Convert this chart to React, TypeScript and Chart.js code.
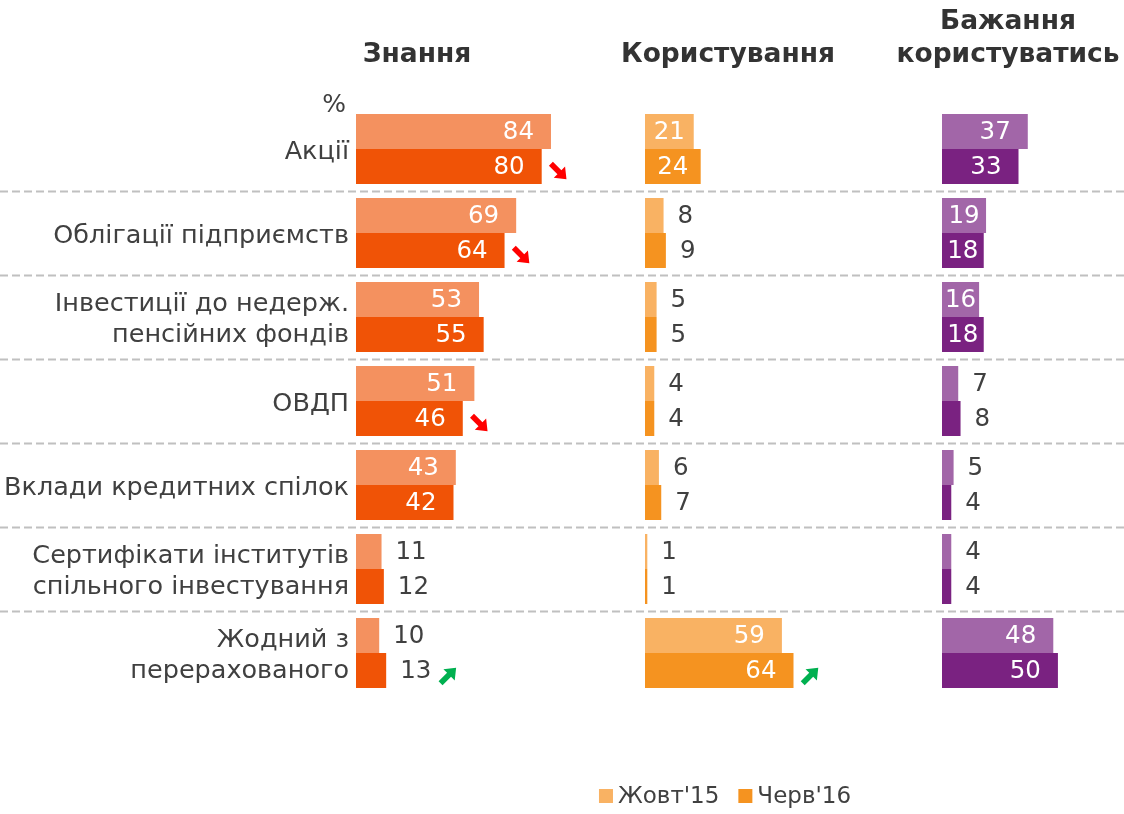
import React, { useEffect, useRef } from 'react';
import { Chart, registerables } from 'chart.js';

Chart.register(...registerables);

const categories: (string | string[])[] = [
  'Акції',
  'Облігації підприємств',
  ['Інвестиції до недерж.', 'пенсійних фондів'],
  'ОВДП',
  'Вклади кредитних спілок',
  ['Сертифікати інститутів', 'спільного інвестування'],
  ['Жодний з', 'перерахованого'],
];
const seriesNames = ["Жовт'15", "Черв'16"];
const panelTitles = [['Знання'], ['Користування'], ['Бажання', 'користуватись']];
const unitLabel = '%';

const knowOct15 = [84, 69, 53, 51, 43, 11, 10];
const knowJun16 = [80, 64, 55, 46, 42, 12, 13];
const useOct15 = [21, 8, 5, 4, 6, 1, 59];
const useJun16 = [24, 9, 5, 4, 7, 1, 64];
const wantOct15 = [37, 19, 16, 7, 5, 4, 48];
const wantJun16 = [33, 18, 18, 8, 4, 4, 50];

const knowTrend = ['down', 'down', null, 'down', null, null, 'up'];
const useTrend = [null, null, null, null, null, null, 'up'];
const wantTrend = [null, null, null, null, null, null, null];

const FONT = '"DejaVu Sans", Verdana, sans-serif';
const TEXT = '#404040';
const knowColors = ['#F4915F', '#F05306'];
const useColors = ['#F9B263', '#F59320'];
const wantColors = ['#A266A8', '#7A2281'];

function drawArrow(ctx: CanvasRenderingContext2D, cx: number, cy: number, dir: string) {
  ctx.save();
  ctx.translate(cx, cy);
  ctx.rotate(dir === 'down' ? Math.PI / 4 : -Math.PI / 4);
  ctx.fillStyle = dir === 'down' ? '#FF0000' : '#00B050';
  ctx.beginPath();
  ctx.moveTo(-11, -2.8);
  ctx.lineTo(1, -2.8);
  ctx.lineTo(1, -8);
  ctx.lineTo(11, 0);
  ctx.lineTo(1, 8);
  ctx.lineTo(1, 2.8);
  ctx.lineTo(-11, 2.8);
  ctx.closePath();
  ctx.fill();
  ctx.restore();
}

const decorPlugin = {
  id: 'decor',
  beforeDatasetsDraw(chart: any) {
    const ctx = chart.ctx as CanvasRenderingContext2D;
    const y = chart.scales.y;
    ctx.save();
    ctx.strokeStyle = '#C0C0C0';
    ctx.lineWidth = 2;
    ctx.setLineDash([8, 4]);
    for (let i = 0; i < categories.length - 1; i++) {
      const py = Math.round((y.getPixelForValue(i) + y.getPixelForValue(i + 1)) / 2) + 0.5;
      ctx.beginPath();
      ctx.moveTo(0, py);
      ctx.lineTo(chart.width, py);
      ctx.stroke();
    }
    ctx.restore();
  },
  afterDatasetsDraw(chart: any) {
    const ctx = chart.ctx as CanvasRenderingContext2D;
    ctx.save();
    ctx.font = `24.5px ${FONT}`;
    ctx.textBaseline = 'middle';
    chart.data.datasets.forEach((ds: any, di: number) => {
      const meta = chart.getDatasetMeta(di);
      meta.data.forEach((bar: any, i: number) => {
        const v = ds.data[i];
        const txt = String(v);
        const tw = ctx.measureText(txt).width;
        const cy = bar.y + 1;
        let endX: number;
        if (v >= 14) {
          const center = (bar.base + bar.x) / 2;
          const right = Math.max(bar.x - 17, center + tw / 2);
          ctx.fillStyle = '#FFFFFF';
          ctx.textAlign = 'right';
          ctx.fillText(txt, right, cy);
          endX = bar.x;
        } else {
          ctx.fillStyle = TEXT;
          ctx.textAlign = 'left';
          ctx.fillText(txt, bar.x + 14, cy);
          endX = bar.x + 14 + tw;
        }
        const tr = ds.trend && ds.trend[i];
        if (tr) drawArrow(ctx, endX + 17, bar.y + 5, tr);
      });
    });
    ctx.restore();
  },
  afterDraw(chart: any) {
    const ctx = chart.ctx as CanvasRenderingContext2D;
    const s = chart.scales;
    ctx.save();
    // panel titles
    ctx.fillStyle = '#333333';
    ctx.font = `bold 26.5px ${FONT}`;
    ctx.textAlign = 'center';
    ctx.textBaseline = 'middle';
    const centers = [s.x1.left + 61, s.x2.left + 83, s.x3.left + 66];
    panelTitles.forEach((lines, pi) => {
      const n = lines.length;
      lines.forEach((ln, li) => {
        ctx.fillText(ln, centers[pi], 55 - (n - 1 - li) * 33);
      });
    });
    // unit label
    ctx.font = `25px ${FONT}`;
    ctx.fillStyle = TEXT;
    ctx.textAlign = 'right';
    ctx.fillText(unitLabel, 346, 105);
    // legend
    ctx.font = `23px ${FONT}`;
    ctx.textAlign = 'left';
    const sq = 14, gap = 5, itemGap = 19;
    const widths = seriesNames.map((n) => sq + gap + ctx.measureText(n).width);
    const total = widths[0] + widths[1] + itemGap;
    let x = 725 - total / 2;
    const ly = 796;
    seriesNames.forEach((n, k) => {
      ctx.fillStyle = useColors[k];
      ctx.fillRect(x, ly - sq / 2, sq, sq);
      ctx.fillStyle = TEXT;
      ctx.fillText(n, x + sq + gap, ly + 1);
      x += widths[k] + itemGap;
    });
    ctx.restore();
  },
};

function mk(label: string, data: number[], color: string, axis: string, stack: string, trend: any[] | null) {
  return {
    label,
    data,
    backgroundColor: color,
    xAxisID: axis,
    yAxisID: 'y',
    stack,
    trend,
    categoryPercentage: 0.833,
    barPercentage: 1,
  };
}

export default function App() {
  const ref = useRef<HTMLCanvasElement | null>(null);
  useEffect(() => {
    if (!ref.current) return;
    const chart = new Chart(ref.current, {
      type: 'bar',
      data: {
        labels: categories as any,
        datasets: [
          mk(seriesNames[0], knowOct15, knowColors[0], 'x1', 'a', null),
          mk(seriesNames[1], knowJun16, knowColors[1], 'x1', 'b', knowTrend),
          mk(seriesNames[0], useOct15, useColors[0], 'x2', 'a', null),
          mk(seriesNames[1], useJun16, useColors[1], 'x2', 'b', useTrend),
          mk(seriesNames[0], wantOct15, wantColors[0], 'x3', 'a', null),
          mk(seriesNames[1], wantJun16, wantColors[1], 'x3', 'b', wantTrend),
        ] as any,
      },
      options: {
        indexAxis: 'y',
        responsive: false,
        maintainAspectRatio: false,
        devicePixelRatio: 1,
        animation: false,
        layout: { padding: { top: 107, bottom: 119, left: 0, right: 0 } },
        plugins: { legend: { display: false }, tooltip: { enabled: false } },
        scales: {
          x1: { type: 'linear', position: 'bottom', stack: 'panels', stackWeight: 289, min: 0, max: 124.5, display: false },
          x2: { type: 'linear', position: 'bottom', stack: 'panels', stackWeight: 297, min: 0, max: 128, display: false },
          x3: { type: 'linear', position: 'bottom', stack: 'panels', stackWeight: 182, min: 0, max: 78.5, display: false },
          y: {
            type: 'category',
            position: 'left',
            grid: { display: false, drawTicks: false },
            border: { display: false },
            ticks: { color: TEXT, padding: 7, labelOffset: 3, font: { family: FONT, size: 25.5, lineHeight: 1.22 } },
            afterFit: (scale: any) => {
              scale.width = 356;
            },
          },
        } as any,
      },
      plugins: [decorPlugin],
    });
    return () => chart.destroy();
  }, []);
  return (
    <div style={{ position: 'absolute', left: 0, top: 0, width: 1124, height: 814, background: '#FFFFFF' }}>
      <canvas ref={ref} width={1124} height={814} style={{ display: 'block' }} />
    </div>
  );
}
